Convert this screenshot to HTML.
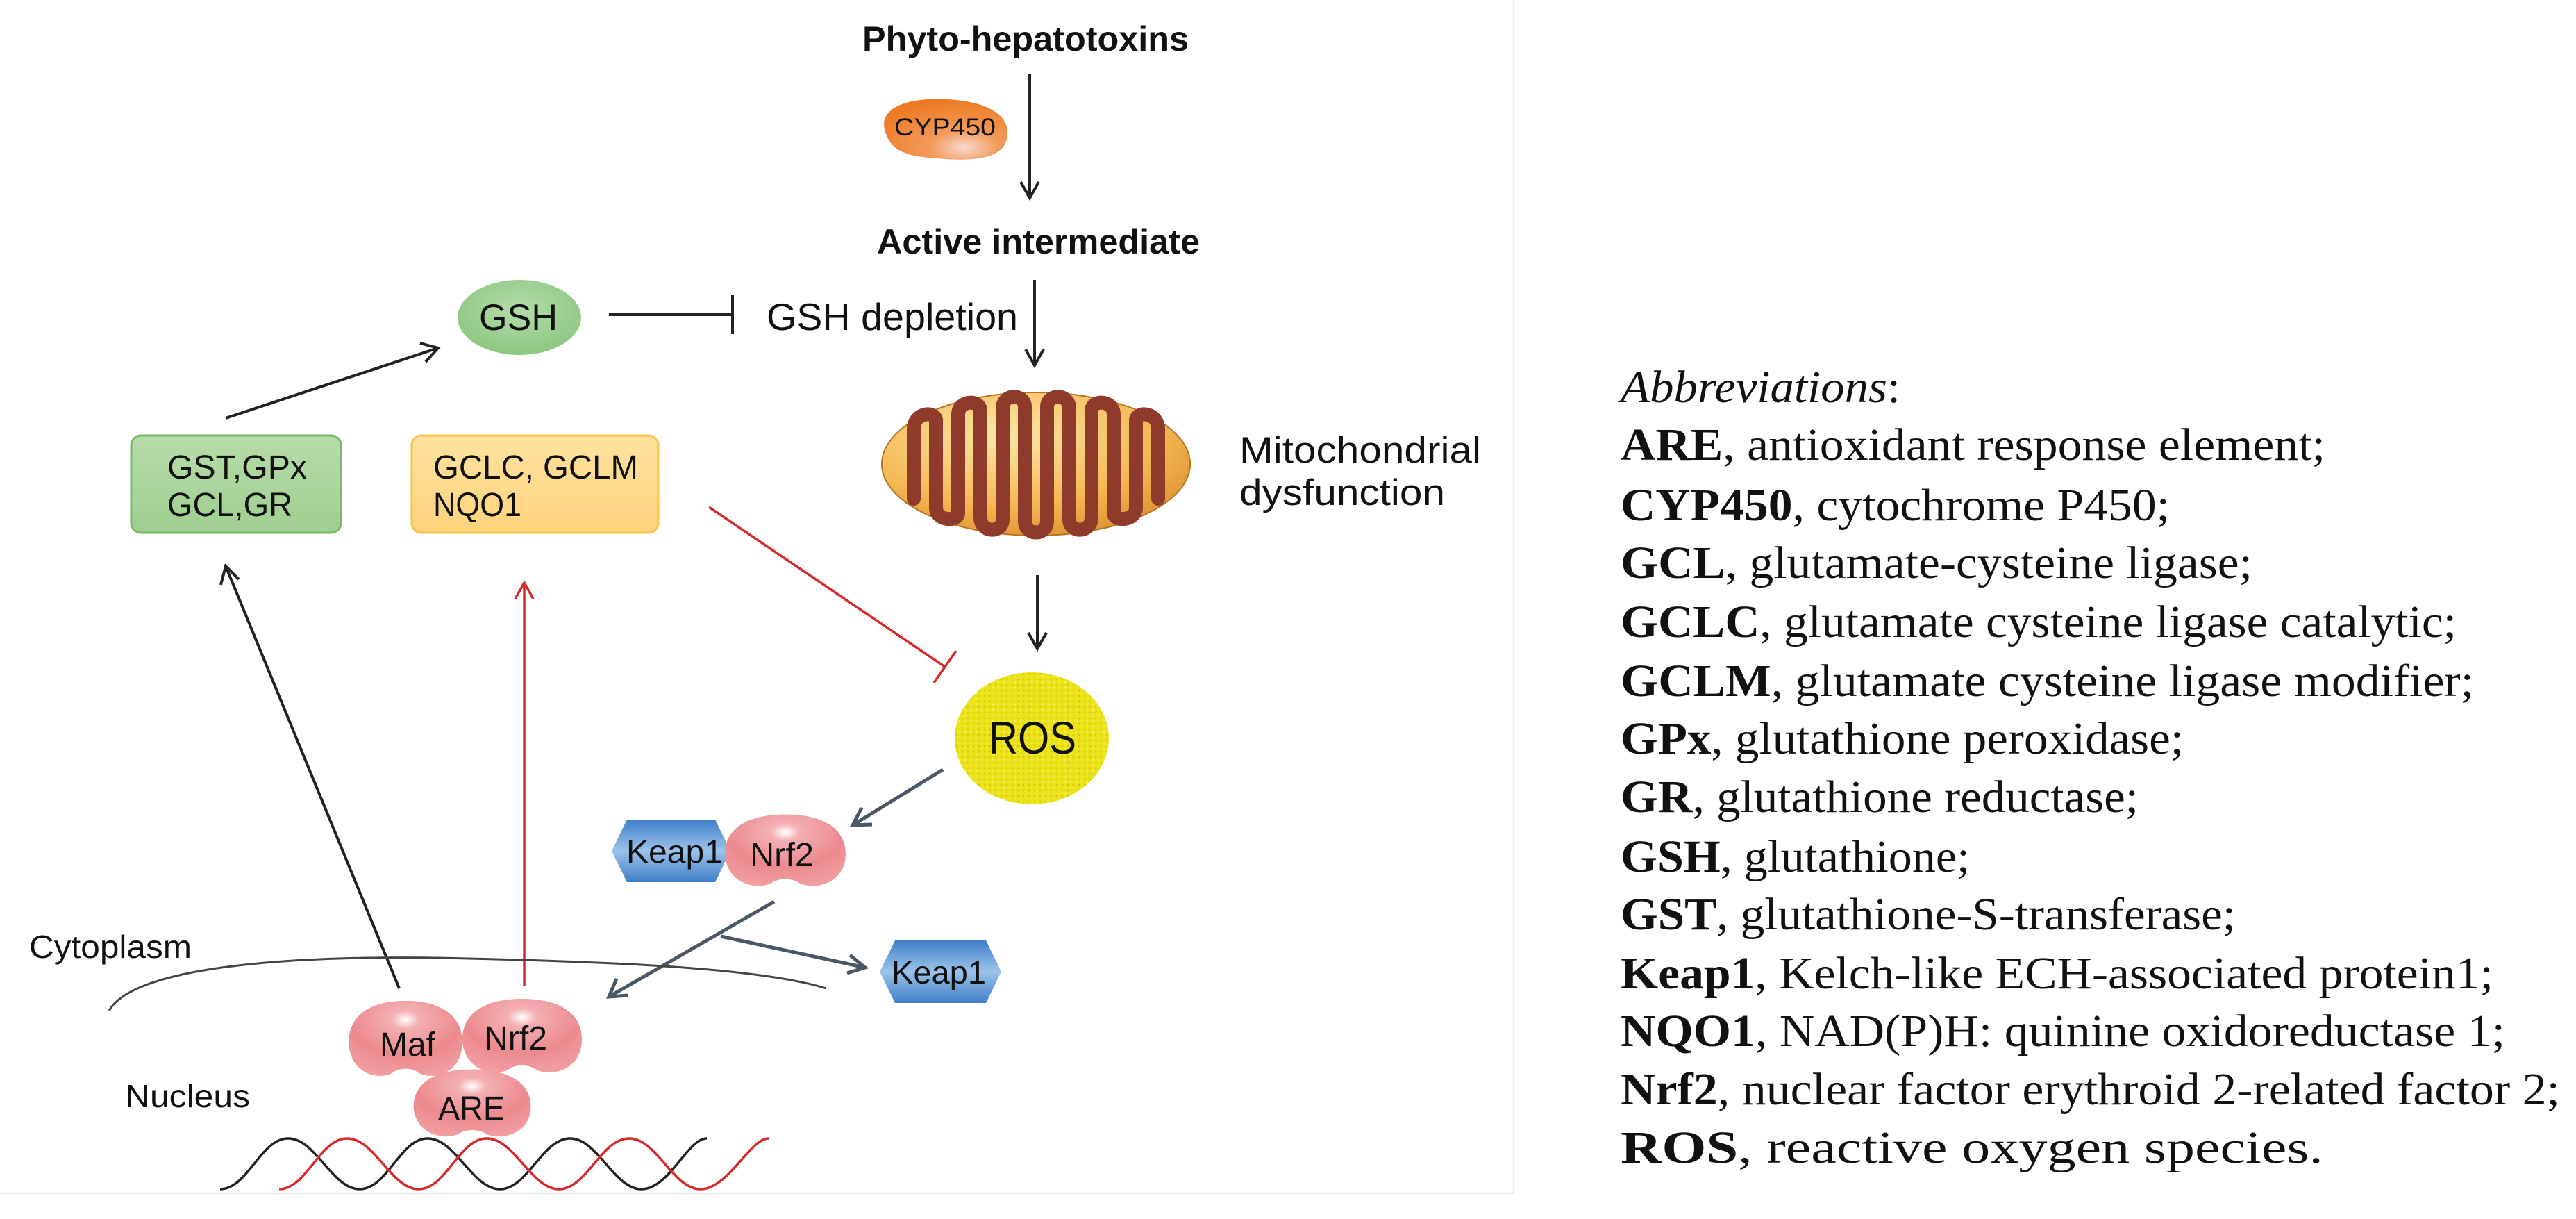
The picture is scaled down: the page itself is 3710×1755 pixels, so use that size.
<!DOCTYPE html>
<html><head><meta charset="utf-8"><style>
html,body{margin:0;padding:0;background:#fff;}
svg{display:block;}
.d{font-family:"Liberation Sans",Arial,sans-serif;fill:#111;}
.a{font-family:"Liberation Serif","Times New Roman",serif;fill:#111;font-size:66px;}
</style></head><body>
<svg width="3710" height="1755" viewBox="0 0 3710 1755" xmlns="http://www.w3.org/2000/svg">
<defs>
<radialGradient id="pink" cx="0.5" cy="0.25" r="0.8">
<stop offset="0" stop-color="#ffffff"/><stop offset="0.15" stop-color="#f4b0b3"/><stop offset="0.6" stop-color="#ec8a8e"/><stop offset="1" stop-color="#f2a0a4"/></radialGradient>
<linearGradient id="blue" x1="0" y1="0" x2="0" y2="1">
<stop offset="0" stop-color="#3f7fc8"/><stop offset="0.5" stop-color="#9cc3ea"/><stop offset="1" stop-color="#3f7fc8"/></linearGradient>
<radialGradient id="orange" cx="0.65" cy="0.8" r="0.8">
<stop offset="0" stop-color="#f8d8cf"/><stop offset="0.35" stop-color="#f29a5a"/><stop offset="1" stop-color="#ee7a22"/></radialGradient>
<radialGradient id="mito" cx="0.4" cy="0.3" r="0.8">
<stop offset="0" stop-color="#fde6a8"/><stop offset="0.6" stop-color="#f5b955"/><stop offset="1" stop-color="#d98a2a"/></radialGradient>
<radialGradient id="gsh" cx="0.5" cy="0.4" r="0.7">
<stop offset="0" stop-color="#b4dcaa"/><stop offset="1" stop-color="#86c47a"/></radialGradient>
<linearGradient id="grn" x1="0" y1="0" x2="0" y2="1"><stop offset="0" stop-color="#b7dcaa"/><stop offset="1" stop-color="#9fcf90"/></linearGradient>
<linearGradient id="yel" x1="0" y1="0" x2="0" y2="1"><stop offset="0" stop-color="#ffe2a0"/><stop offset="1" stop-color="#fdd37c"/></linearGradient>
<pattern id="dots" width="8" height="8" patternUnits="userSpaceOnUse"><rect width="8" height="8" fill="#ece21a"/><circle cx="2" cy="2" r="1.2" fill="#d4c800"/><circle cx="6" cy="6" r="1.2" fill="#f6ee60"/></pattern>
<path id="bean" d="M -20,48 C -40,58 -80,50 -85,10 C -88,-30 -55,-52 0,-52 C 55,-52 88,-30 85,10 C 82,50 40,58 20,48 C 10,40 -10,40 -20,48 Z"/>
</defs>

<line x1="2180" y1="0" x2="2180" y2="1718" stroke="#ececec" stroke-width="3"/>
<line x1="0" y1="1718" x2="2180" y2="1718" stroke="#ececec" stroke-width="3"/>

<text class="d" x="1242" y="73" font-size="50" font-weight="bold" textLength="470" lengthAdjust="spacingAndGlyphs">Phyto-hepatotoxins</text>
<g stroke="#222" stroke-width="4" fill="none">
<line x1="1483" y1="106" x2="1483" y2="285"/><polyline points="1470,262 1483,285 1496,262"/>
<line x1="1490" y1="403" x2="1490" y2="526"/><polyline points="1477,503 1490,526 1503,503"/>
<line x1="1494" y1="828" x2="1494" y2="934"/><polyline points="1481,911 1494,934 1507,911"/>
</g>
<path d="M1275,190 C1262,150 1320,140 1365,143 C1420,146 1458,165 1450,200 C1444,232 1390,232 1350,228 C1300,225 1283,215 1275,190 Z" fill="url(#orange)"/>
<text class="d" x="1288" y="195" font-size="35" textLength="146" lengthAdjust="spacingAndGlyphs">CYP450</text>
<text class="d" x="1263" y="365" font-size="50" font-weight="bold" textLength="465" lengthAdjust="spacingAndGlyphs">Active intermediate</text>

<ellipse cx="748" cy="457" rx="89" ry="54" fill="url(#gsh)"/>
<text class="d" x="690" y="475" font-size="53" textLength="113" lengthAdjust="spacingAndGlyphs">GSH</text>
<g stroke="#222" stroke-width="4" fill="none">
<line x1="877" y1="453" x2="1055" y2="453"/><line x1="1055" y1="425" x2="1055" y2="481"/>
</g>
<text class="d" x="1104" y="475" font-size="55" textLength="362" lengthAdjust="spacingAndGlyphs">GSH depletion</text>

<ellipse cx="1492" cy="668" rx="222" ry="103" fill="url(#mito)" stroke="#b87420" stroke-width="2"/>
<path d="M1316,718 L1316,618 C1316,592 1348,592 1348,605 L1348,731 C1348,751 1380,751 1380,739 L1380,597 C1380,575 1412,575 1412,591 L1412,745 C1412,768 1444,768 1444,748 L1444,588 C1444,566 1476,566 1476,586 L1476,750 C1476,772 1508,772 1508,750 L1508,586 C1508,566 1540,566 1540,588 L1540,748 C1540,768 1572,768 1572,745 L1572,591 C1572,575 1604,575 1604,597 L1604,739 C1604,751 1636,751 1636,731 L1636,605 C1636,592 1668,592 1668,618 L1668,718" fill="none" stroke="#8e3b2c" stroke-width="20" stroke-linecap="round" stroke-linejoin="round"/>
<text class="d" x="1785" y="666" font-size="53" textLength="348" lengthAdjust="spacingAndGlyphs">Mitochondrial</text>
<text class="d" x="1785" y="727" font-size="53" textLength="296" lengthAdjust="spacingAndGlyphs">dysfunction</text>

<rect x="189" y="627" width="302" height="140" rx="14" fill="url(#grn)" stroke="#7ab86c" stroke-width="3"/>
<text class="d" x="241" y="689" font-size="48" textLength="201" lengthAdjust="spacingAndGlyphs">GST,GPx</text>
<text class="d" x="241" y="743" font-size="48" textLength="180" lengthAdjust="spacingAndGlyphs">GCL,GR</text>
<rect x="593" y="627" width="355" height="140" rx="14" fill="url(#yel)" stroke="#f3c548" stroke-width="3"/>
<text class="d" x="624" y="689" font-size="48" textLength="295" lengthAdjust="spacingAndGlyphs">GCLC, GCLM</text>
<text class="d" x="624" y="743" font-size="48" textLength="127" lengthAdjust="spacingAndGlyphs">NQO1</text>

<g stroke="#222" stroke-width="4" fill="none">
<line x1="325" y1="602" x2="631" y2="501"/><polyline points="605,494 631,501 613,521"/>
<line x1="575" y1="1423" x2="325" y2="815"/><polyline points="318,842 325,815 344,834"/>
</g>
<g stroke="#d42a2a" stroke-width="3.5" fill="none">
<line x1="755" y1="1419" x2="755" y2="839"/><polyline points="742,862 755,839 768,862"/>
<line x1="1021" y1="730" x2="1361" y2="960"/><line x1="1345" y1="983" x2="1377" y2="937"/>
</g>

<ellipse cx="1486" cy="1063" rx="111" ry="95" fill="url(#dots)"/>
<text class="d" x="1424" y="1085" font-size="66" textLength="126" lengthAdjust="spacingAndGlyphs">ROS</text>

<g stroke="#4a5866" stroke-width="5" fill="none">
<line x1="1358" y1="1108" x2="1228" y2="1188"/><polyline points="1241,1163 1228,1188 1256,1187"/>
<line x1="1115" y1="1298" x2="877" y2="1435"/><polyline points="888,1409 877,1435 905,1433"/>
<line x1="1038" y1="1348" x2="1246" y2="1393"/><polyline points="1224,1375 1246,1393 1220,1401"/>
</g>

<polygon points="881,1225 903,1180 1030,1180 1052,1225 1030,1270 903,1270" fill="url(#blue)"/>
<text class="d" x="902" y="1242" font-size="46" textLength="139" lengthAdjust="spacingAndGlyphs">Keap1</text>
<use href="#bean" transform="translate(1131,1224) scale(1.02,0.99)" fill="url(#pink)"/>
<text class="d" x="1080" y="1247" font-size="48" textLength="92" lengthAdjust="spacingAndGlyphs">Nrf2</text>

<polygon points="1267,1399 1289,1354 1420,1354 1442,1399 1420,1444 1289,1444" fill="url(#blue)"/>
<text class="d" x="1284" y="1416" font-size="46" textLength="136" lengthAdjust="spacingAndGlyphs">Keap1</text>

<path d="M157,1455 C200,1380 500,1375 673,1380 C900,1385 1100,1395 1190,1423" fill="none" stroke="#444" stroke-width="3"/>
<text class="d" x="42" y="1379" font-size="46" textLength="234" lengthAdjust="spacingAndGlyphs">Cytoplasm</text>
<text class="d" x="180" y="1594" font-size="46" textLength="180" lengthAdjust="spacingAndGlyphs">Nucleus</text>

<use href="#bean" transform="translate(584,1495) scale(0.96,1.04)" fill="url(#pink)"/>
<use href="#bean" transform="translate(752,1491) scale(1.01,1.02)" fill="url(#pink)"/>
<use href="#bean" transform="translate(680,1588) scale(0.99,0.93)" fill="url(#pink)"/>
<text class="d" x="547" y="1520" font-size="48" textLength="80" lengthAdjust="spacingAndGlyphs">Maf</text>
<text class="d" x="697" y="1511" font-size="48" textLength="91" lengthAdjust="spacingAndGlyphs">Nrf2</text>
<text class="d" x="631" y="1612" font-size="48" textLength="96" lengthAdjust="spacingAndGlyphs">ARE</text>

<path d="M317,1712 C357,1712 375,1639 415,1639 S478,1712 518,1712 S576,1639 616,1639 S680,1712 720,1712 S781,1639 821,1639 S884,1712 924,1712 S990,1639 1018,1639" fill="none" stroke="#222" stroke-width="3.5"/>
<path d="M402,1712 C442,1712 460,1639 500,1639 S563,1712 603,1712 S661,1639 701,1639 S765,1712 805,1712 S866,1639 906,1639 S969,1712 1009,1712 S1080,1639 1107,1639" fill="none" stroke="#d42a2a" stroke-width="3.5"/>

<text class="a" x="2334" y="579" font-style="italic" textLength="403" lengthAdjust="spacingAndGlyphs">Abbreviations<tspan font-style="normal">:</tspan></text>
<text class="a" x="2334" y="662" textLength="1015" lengthAdjust="spacingAndGlyphs"><tspan font-weight="bold">ARE</tspan>, antioxidant  response  element;</text>
<text class="a" x="2334" y="749" textLength="791" lengthAdjust="spacingAndGlyphs"><tspan font-weight="bold">CYP450</tspan>, cytochrome  P450;</text>
<text class="a" x="2334" y="832" textLength="910" lengthAdjust="spacingAndGlyphs"><tspan font-weight="bold">GCL</tspan>, glutamate-cysteine  ligase;</text>
<text class="a" x="2334" y="917" textLength="1204" lengthAdjust="spacingAndGlyphs"><tspan font-weight="bold">GCLC</tspan>, glutamate  cysteine  ligase  catalytic;</text>
<text class="a" x="2334" y="1002" textLength="1229" lengthAdjust="spacingAndGlyphs"><tspan font-weight="bold">GCLM</tspan>, glutamate  cysteine  ligase  modifier;</text>
<text class="a" x="2334" y="1085" textLength="811" lengthAdjust="spacingAndGlyphs"><tspan font-weight="bold">GPx</tspan>, glutathione  peroxidase;</text>
<text class="a" x="2334" y="1169" textLength="746" lengthAdjust="spacingAndGlyphs"><tspan font-weight="bold">GR</tspan>, glutathione  reductase;</text>
<text class="a" x="2334" y="1255" textLength="503" lengthAdjust="spacingAndGlyphs"><tspan font-weight="bold">GSH</tspan>, glutathione;</text>
<text class="a" x="2334" y="1338" textLength="886" lengthAdjust="spacingAndGlyphs"><tspan font-weight="bold">GST</tspan>, glutathione-S-transferase;</text>
<text class="a" x="2334" y="1423" textLength="1257" lengthAdjust="spacingAndGlyphs"><tspan font-weight="bold">Keap1</tspan>, Kelch-like  ECH-associated  protein1;</text>
<text class="a" x="2334" y="1506" textLength="1274" lengthAdjust="spacingAndGlyphs"><tspan font-weight="bold">NQO1</tspan>, NAD(P)H:  quinine  oxidoreductase  1;</text>
<text class="a" x="2334" y="1590" textLength="1353" lengthAdjust="spacingAndGlyphs"><tspan font-weight="bold">Nrf2</tspan>, nuclear  factor  erythroid  2-related  factor  2;</text>
<text class="a" x="2334" y="1674" textLength="1012" lengthAdjust="spacingAndGlyphs"><tspan font-weight="bold">ROS</tspan>, reactive  oxygen  species.</text>
</svg>
</body></html>
